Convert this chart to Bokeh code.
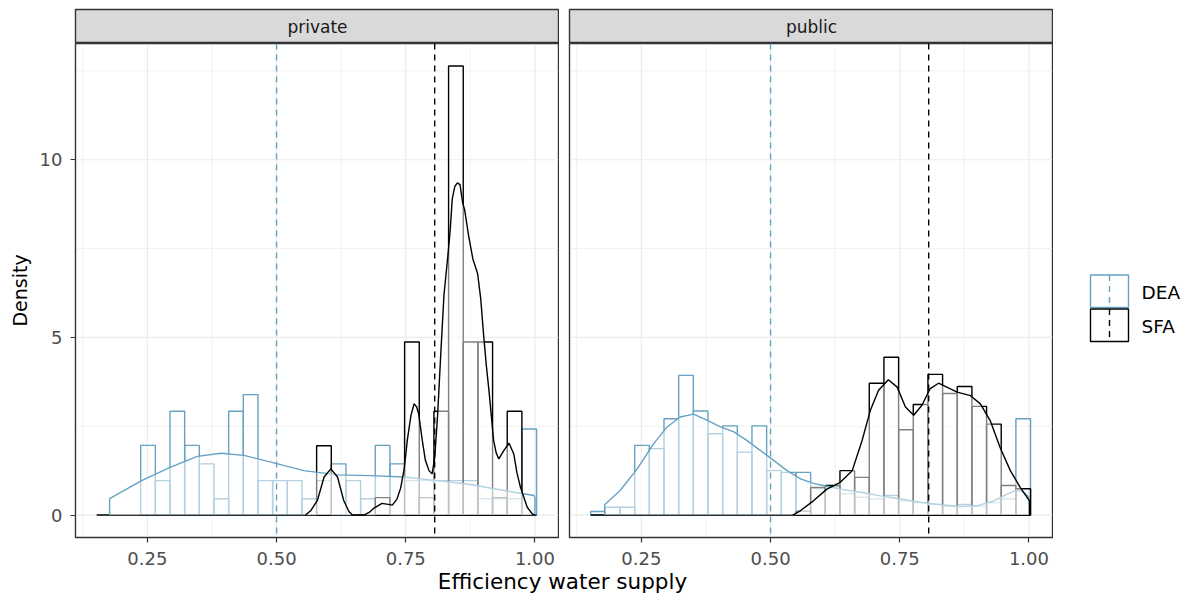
import numpy as np
from bokeh.plotting import figure
from bokeh.layouts import row, column
from bokeh.models import FixedTicker, Range1d, Span, NumeralTickFormatter
from bokeh.embed import file_html
from bokeh.resources import INLINE
from bokeh.core.properties import value

# ---------------------------------------------------------------- data
facets = ["private", "public"]
methods = ["DEA", "SFA"]
method_colors = ["#66A2C2", "#000000"]

# 30 histogram bins shared by both facets
bin_start = 0.152
bin_width = 0.02837
n_bins = 30

# histogram heights (density scale), one value per bin
private_dea_hist = [0.00, 0.00, 0.00, 1.96, 0.97, 2.92, 1.96, 1.44, 0.46, 2.92,
                    3.39, 0.97, 0.97, 0.97, 0.46, 0.97, 1.44, 0.97, 0.46, 1.96,
                    1.44, 0.97, 0.97, 0.97, 0.97, 0.97, 0.46, 0.46, 0.46, 2.42]
private_sfa_hist = [0.00, 0.00, 0.00, 0.00, 0.00, 0.00, 0.00, 0.00, 0.00, 0.00,
                    0.00, 0.00, 0.00, 0.00, 0.00, 1.95, 0.00, 0.00, 0.00, 0.49,
                    0.00, 4.87, 0.49, 2.92, 12.64, 4.87, 4.87, 0.49, 2.92, 0.00]
public_dea_hist = [0.10, 0.22, 0.22, 1.96, 1.87, 2.71, 3.93, 2.93, 2.29, 2.51,
                   1.77, 2.51, 1.25, 1.20, 1.20, 0.75, 0.80, 0.60, 0.50, 0.45,
                   0.55, 0.40, 0.35, 0.30, 0.25, 0.30, 0.25, 0.35, 0.45, 2.71]
public_sfa_hist = [0.00, 0.00, 0.00, 0.00, 0.00, 0.00, 0.00, 0.00, 0.00, 0.00,
                   0.00, 0.00, 0.00, 0.00, 0.11, 0.78, 0.83, 1.25, 1.06, 3.71,
                   4.44, 2.40, 3.11, 3.96, 3.42, 3.62, 3.06, 2.56, 0.83, 0.74]

# kernel density curves
private_dea_x = [0.177, 0.239, 0.295, 0.347, 0.392, 0.437, 0.489, 0.553, 0.618,
                 0.682, 0.746, 0.811, 0.875, 0.940, 0.998, 1.000]
private_dea_y = [0.46, 0.97, 1.35, 1.65, 1.74, 1.68, 1.49, 1.25, 1.13,
                 1.11, 1.07, 0.97, 0.86, 0.69, 0.55, 0.50]
private_sfa_x = [0.556, 0.566, 0.579, 0.592, 0.605, 0.618, 0.630, 0.640, 0.647,
                 0.669, 0.680, 0.688, 0.704, 0.716, 0.724, 0.733, 0.740, 0.747,
                 0.753, 0.760, 0.766, 0.771, 0.775, 0.782, 0.788, 0.795, 0.801,
                 0.806, 0.812, 0.818, 0.824, 0.832, 0.836, 0.840, 0.845, 0.850,
                 0.855, 0.860, 0.864, 0.872, 0.880, 0.889, 0.895, 0.901, 0.906,
                 0.911, 0.920, 0.925, 0.930, 0.940, 0.950, 0.959, 0.965, 0.972,
                 0.985, 0.995, 1.000]
private_sfa_y = [0.00, 0.12, 0.41, 1.07, 1.30, 1.07, 0.41, 0.10, 0.00,
                 0.00, 0.08, 0.19, 0.33, 0.30, 0.28, 0.45, 0.75, 1.30,
                 2.10, 2.80, 3.13, 3.05, 2.85, 2.10, 1.54, 1.25, 1.16,
                 1.60, 2.90, 4.60, 6.20, 7.37, 8.02, 8.90, 9.25, 9.35,
                 9.30, 8.80, 8.59, 7.83, 7.20, 6.80, 6.10, 5.01, 4.20,
                 3.51, 2.10, 1.75, 1.58, 1.82, 2.02, 1.72, 1.20, 0.78,
                 0.22, 0.03, 0.00]
public_dea_x = [0.179, 0.209, 0.242, 0.274, 0.300, 0.325, 0.351, 0.377, 0.403,
                0.429, 0.454, 0.480, 0.506, 0.532, 0.558, 0.583, 0.609, 0.635,
                0.674, 0.712, 0.751, 0.790, 0.828, 0.867, 0.899, 0.932, 0.958,
                0.977, 0.990, 1.000]
public_dea_y = [0.29, 0.69, 1.30, 2.01, 2.48, 2.76, 2.84, 2.67, 2.48,
                2.34, 2.10, 1.82, 1.54, 1.25, 1.02, 0.89, 0.81, 0.73,
                0.64, 0.54, 0.45, 0.36, 0.29, 0.24, 0.26, 0.40, 0.59,
                0.71, 0.64, 0.50]
public_sfa_x = [0.543, 0.5575, 0.583, 0.609, 0.635, 0.658, 0.677, 0.693, 0.709,
                0.728, 0.745, 0.761, 0.777, 0.793, 0.809, 0.825, 0.841, 0.861,
                0.887, 0.906, 0.925, 0.944, 0.964, 0.983, 1.001]
public_sfa_y = [0.00, 0.12, 0.40, 0.73, 0.92, 1.25, 2.09, 2.94, 3.51,
                3.81, 3.60, 3.04, 2.81, 3.09, 3.56, 3.71, 3.60, 3.46,
                3.36, 3.13, 2.66, 1.91, 1.25, 0.78, 0.40]

# mean efficiency per method (dashed reference lines)
method_means = [0.500, 0.806]

x_ticks = [0.25, 0.50, 0.75, 1.00]
x_minor = [0.125, 0.375, 0.625, 0.875]
y_ticks = [0, 5, 10]
y_minor = [2.5, 7.5, 12.5]

# ---------------------------------------------------------------- style
FONT = "DejaVu Sans"
GRID = "#EBEBEB"
BORDER = "#333333"
TICK_TEXT = "#4D4D4D"
LW = 1.4
FRAME_W, FRAME_H = 484, 494
X_LIM = (0.111, 1.0475)
Y_LIM = (-0.632, 13.272)

edges = bin_start + bin_width * np.arange(n_bins + 1)


def draw_grid(p):
    # grid lines stop one pixel inside the panel border
    px = (X_LIM[1] - X_LIM[0]) / FRAME_W
    py = (Y_LIM[1] - Y_LIM[0]) / FRAME_H
    gx0, gx1 = X_LIM[0] + 1.2 * px, X_LIM[1] - 1.2 * px
    gy0, gy1 = Y_LIM[0] + 1.2 * py, Y_LIM[1] - 1.2 * py
    for xs, w in ((x_minor, 0.7), (x_ticks, 1.2)):
        p.segment(x0=xs, x1=xs, y0=[gy0] * len(xs), y1=[gy1] * len(xs),
                  line_color=GRID, line_width=w)
    for ys, w in ((y_minor, 0.7), (y_ticks, 1.2)):
        p.segment(x0=[gx0] * len(ys), x1=[gx1] * len(ys), y0=ys, y1=ys,
                  line_color=GRID, line_width=w)


def draw_hist(p, heights, color):
    h = np.asarray(heights, dtype=float)
    keep = h > 0
    p.quad(left=edges[:-1][keep], right=edges[1:][keep], bottom=0, top=h[keep],
           fill_color=None, line_color=color, line_width=LW)


def draw_density(p, xs, ys, color):
    xs = list(xs)
    ys = list(ys)
    p.varea(x=xs, y1=[0] * len(xs), y2=ys, fill_color="white", fill_alpha=0.5)
    p.line(x=[xs[0]] + xs + [xs[-1]], y=[0] + ys + [0],
           line_color=color, line_width=LW)


def make_strip(label, left_border):
    s = figure(frame_width=FRAME_W, frame_height=34, min_border_left=left_border,
               min_border_right=0, min_border_top=9, min_border_bottom=0,
               x_range=Range1d(0, 1), y_range=Range1d(0, 1),
               x_axis_location=None, y_axis_location=None,
               toolbar_location=None, output_backend="svg")
    s.grid.grid_line_color = None
    s.background_fill_color = "#D9D9D9"
    s.outline_line_color = BORDER
    s.outline_line_width = 1.4
    s.text(x=[0.5], y=[0.5], text=[label], text_align="center",
           text_baseline="middle", text_font=value(FONT),
           text_font_size="17px", text_color="#1A1A1A")
    return s


def make_panel(hists, dens, left_border, show_y):
    p = figure(frame_width=FRAME_W, frame_height=FRAME_H, min_border_left=left_border,
               min_border_right=0, min_border_top=0, min_border_bottom=32,
               x_range=Range1d(*X_LIM), y_range=Range1d(*Y_LIM),
               y_axis_location="left" if show_y else None,
               toolbar_location=None, output_backend="svg")
    p.background_fill_color = "white"
    p.outline_line_color = BORDER
    p.outline_line_width = 1.4
    p.grid.grid_line_color = None
    p.grid.minor_grid_line_color = None
    draw_grid(p)

    p.xaxis.ticker = FixedTicker(ticks=x_ticks, minor_ticks=x_minor)
    p.xaxis.formatter = NumeralTickFormatter(format="0.00")
    axes = list(p.xaxis)
    if show_y:
        p.yaxis.ticker = FixedTicker(ticks=y_ticks, minor_ticks=y_minor)
        p.yaxis.axis_label = "Density"
        p.yaxis.axis_label_text_font = FONT
        p.yaxis.axis_label_text_font_size = "19px"
        p.yaxis.axis_label_text_font_style = "normal"
        p.yaxis.axis_label_text_color = "black"
        p.yaxis.axis_label_standoff = 6
        axes += list(p.yaxis)
    for ax in axes:
        ax.axis_line_color = None
        ax.major_tick_line_color = BORDER
        ax.major_tick_line_width = 1.2
        ax.major_tick_out = 5
        ax.major_tick_in = 0
        ax.minor_tick_line_color = None
        ax.major_label_text_font = FONT
        ax.major_label_text_font_size = "18px"
        ax.major_label_text_color = TICK_TEXT
    p.xaxis.major_label_standoff = 9
    if show_y:
        p.yaxis.major_label_standoff = 8

    # histograms: DEA first, SFA on top
    for h, c in zip(hists, method_colors):
        draw_hist(p, h, c)
    # zero-count SFA bins leave a baseline across the full binned range
    p.line(x=[edges[0], edges[-1]], y=[0, 0], line_color=method_colors[1], line_width=LW)

    # density curves, each laid over with a translucent white area
    for (xs, ys), c in zip(dens, method_colors):
        draw_density(p, xs, ys, c)

    for m, c in zip(method_means, method_colors):
        p.add_layout(Span(location=m, dimension="height", line_color=c,
                          line_dash="6 5", line_width=1.4))
    return p


strip_priv = make_strip(facets[0], 75)
strip_pub = make_strip(facets[1], 10)

panel_priv = make_panel([private_dea_hist, private_sfa_hist],
                        [(private_dea_x, private_dea_y), (private_sfa_x, private_sfa_y)],
                        75, True)
panel_pub = make_panel([public_dea_hist, public_sfa_hist],
                       [(public_dea_x, public_dea_y), (public_sfa_x, public_sfa_y)],
                       10, False)

# legend column (coordinates in pixels of the page)
leg = figure(width=136, height=569, min_border=0,
             x_range=Range1d(1053, 1189), y_range=Range1d(569, 0),
             x_axis_location=None, y_axis_location=None,
             toolbar_location=None, output_backend="svg")
leg.grid.grid_line_color = None
leg.outline_line_color = None
key_tops = [274.5, 308.5]
key_h = 32.5
for m, c, t in zip(methods, method_colors, key_tops):
    leg.quad(left=1090, right=1128, top=t, bottom=t + key_h,
             fill_color="white", line_color=c, line_width=1.4)
    leg.segment(x0=[1109], y0=[t], x1=[1109], y1=[t + key_h],
                line_color=c, line_dash="6 5", line_width=1.4)
    leg.text(x=[1141], y=[t + key_h / 2 + 1], text=[m], text_align="left",
             text_baseline="middle", text_font=value(FONT),
             text_font_size="18.5px", text_color="black")

# shared x-axis title under both facets
xlab = figure(width=1189, height=28, min_border=0,
              x_range=Range1d(0, 1189), y_range=Range1d(597, 569),
              x_axis_location=None, y_axis_location=None,
              toolbar_location=None, output_backend="svg")
xlab.grid.grid_line_color = None
xlab.outline_line_color = None
xlab.text(x=[562], y=[581], text=["Efficiency water supply"], text_align="center",
          text_baseline="middle", text_font=value(FONT),
          text_font_size="21.5px", text_color="black")

page = column(row(column(strip_priv, panel_priv), column(strip_pub, panel_pub), leg),
              xlab)

open("out.html", "w").write(file_html(page, INLINE))
